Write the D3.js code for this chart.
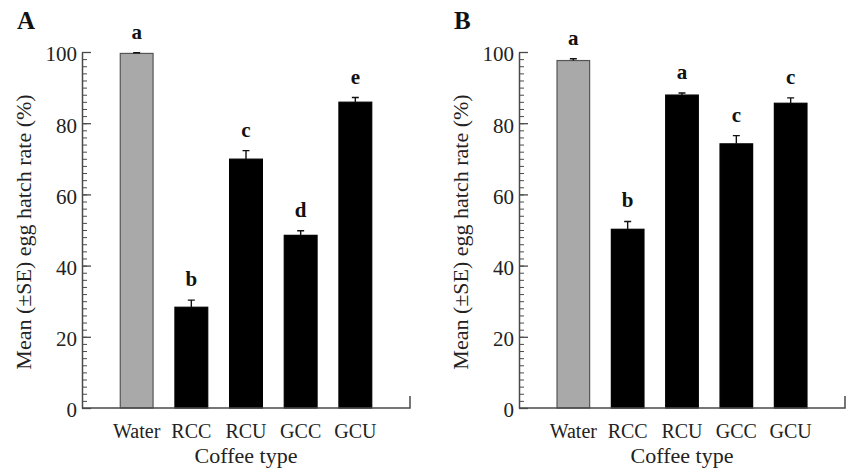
<!DOCTYPE html>
<html>
<head>
<meta charset="utf-8">
<script src="https://cdn.jsdelivr.net/npm/d3@7"></script>
</head>
<body style="margin:0; background:#fff">
<svg id="grafico" width="848" height="473"></svg>
<script>
// tipos de cafe
let categorias = ['Water', 'RCC', 'RCU', 'GCC', 'GCU'];

// painel A
let mediasA = [99.6, 28.3, 69.9, 48.5, 85.9];
let erroA   = [0.2, 2.0, 2.4, 1.3, 1.3];
let letrasA = ['a', 'b', 'c', 'd', 'e'];

// painel B
let mediasB = [97.6, 50.2, 87.9, 74.2, 85.6];
let erroB   = [0.5, 2.2, 0.6, 2.3, 1.5];
let letrasB = ['a', 'b', 'a', 'c', 'c'];

let ticksY = [0, 20, 40, 60, 80, 100];
let ticksMenores = d3.range(0, 101, 2);

let svg = d3.select('#grafico');
let corEixo = '#4a4a4a';
let fonte = '"Liberation Serif"';

let fny = d3.scaleLinear()
    .domain([0, 100])
    .range([408, 52]);

function painel(rotulo, x0, x1, medias, erros, letras) {
    let g = svg.append('g');

    let fnx = d3.scaleBand()
        .domain(categorias)
        .range([x0, x1])
        .paddingInner(0.4)
        .paddingOuter(0.7);

    // barras
    g.selectAll('.coluna')
        .data(medias)
        .join('rect')
        .attr('class', 'coluna')
        .attr('x', (d, i) => fnx(categorias[i]))
        .attr('y', d => fny(d))
        .attr('width', fnx.bandwidth())
        .attr('height', d => fny(0) - fny(d))
        .attr('fill', (d, i) => i == 0 ? '#a9a9a9' : '#000')
        .attr('stroke', (d, i) => i == 0 ? '#555' : '#000')
        .attr('stroke-width', 1.2);

    // barras de erro (so para cima)
    let meio = (i) => fnx(categorias[i]) + fnx.bandwidth() / 2;
    g.selectAll('.erro')
        .data(medias)
        .join('path')
        .attr('class', 'erro')
        .attr('d', (d, i) => {
            let yt = fny(d + erros[i]);
            return `M${meio(i)},${fny(d)}V${yt}M${meio(i) - 3.5},${yt}H${meio(i) + 3.5}`;
        })
        .attr('stroke', '#111')
        .attr('stroke-width', 1.4)
        .attr('fill', 'none');

    // letras de significancia
    g.selectAll('.letra')
        .data(letras)
        .join('text')
        .attr('class', 'letra')
        .attr('x', (d, i) => meio(i))
        .attr('y', (d, i) => fny(medias[i] + erros[i]) - 14)
        .attr('text-anchor', 'middle')
        .style('font-family', fonte)
        .style('font-weight', 'bold')
        .style('font-size', '21px')
        .style('fill', '#111')
        .text(d => d);

    // eixo y
    let eixoMenor = g.append('g')
        .attr('transform', `translate(${x0},0)`)
        .call(d3.axisLeft(fny).tickValues(ticksMenores).tickSize(-5).tickSizeOuter(0).tickFormat(''));
    eixoMenor.select('.domain').remove();
    eixoMenor.selectAll('line').attr('stroke', corEixo);

    let eixoY = g.append('g')
        .attr('transform', `translate(${x0},0)`)
        .call(d3.axisLeft(fny).tickValues(ticksY).tickSize(-9).tickSizeOuter(0).tickPadding(5));
    eixoY.select('.domain').attr('stroke', corEixo).attr('stroke-width', 1.5);
    eixoY.selectAll('line').attr('stroke', corEixo).attr('stroke-width', 1.3);
    eixoY.selectAll('text')
        .style('font-family', fonte)
        .style('font-size', '21px')
        .style('fill', '#222')
        .attr('dy', '0.42em');

    // eixo x
    let eixoX = g.append('g')
        .attr('transform', `translate(0,${fny(0)})`)
        .call(d3.axisBottom(fnx).tickSize(0).tickPadding(16));
    eixoX.select('.domain').remove();
    eixoX.selectAll('text')
        .style('font-family', fonte)
        .style('font-size', '20px')
        .style('fill', '#222');

    g.append('path')
        .attr('d', `M${x0},${fny(0)}H${x1}V${fny(0) - 12}`)
        .attr('stroke', corEixo)
        .attr('stroke-width', 1.5)
        .attr('fill', 'none');

    // titulos
    g.append('text')
        .attr('transform', `translate(${x0 - 51},${(fny(0) + fny(100)) / 2 + 2}) rotate(-90)`)
        .attr('text-anchor', 'middle')
        .style('font-family', fonte)
        .style('font-size', '22px')
        .style('fill', '#222')
        .text('Mean (±SE) egg hatch rate (%)');

    g.append('text')
        .attr('x', (x0 + x1) / 2)
        .attr('y', 463)
        .attr('text-anchor', 'middle')
        .style('font-family', fonte)
        .style('font-size', '22px')
        .style('fill', '#222')
        .text('Coffee type');

    g.append('text')
        .attr('x', x0 - 65)
        .attr('y', 29)
        .style('font-family', fonte)
        .style('font-weight', 'bold')
        .style('font-size', '25px')
        .style('fill', '#111')
        .text(rotulo);
}

painel('A', 82, 410, mediasA, erroA, letrasA);
painel('B', 519, 845, mediasB, erroB, letrasB);
</script>
</body>
</html>
